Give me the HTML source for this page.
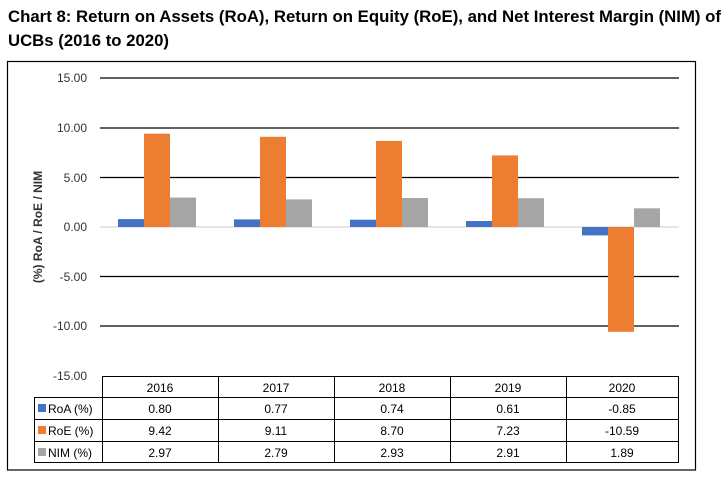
<!DOCTYPE html>
<html><head><meta charset="utf-8"><style>
body{margin:0;background:#fff;width:728px;height:484px;overflow:hidden;font-family:"Liberation Sans",sans-serif}
</style></head><body>
<svg width="728" height="484" xmlns="http://www.w3.org/2000/svg" style="position:absolute;left:0;top:0">
<text x="8" y="22" font-size="16.6" font-weight="bold" fill="#000" textLength="713" lengthAdjust="spacingAndGlyphs">Chart 8: Return on Assets (RoA), Return on Equity (RoE), and Net Interest Margin (NIM) of</text>
<text x="8" y="46" font-size="16.6" font-weight="bold" fill="#000" textLength="161" lengthAdjust="spacingAndGlyphs">UCBs (2016 to 2020)</text>
<rect x="7.5" y="61.5" width="688" height="408.5" fill="none" stroke="#000" stroke-width="1.2"/>
<g stroke="#000" stroke-width="1.2">
<line x1="100" x2="679" y1="78" y2="78"/>
<line x1="100" x2="679" y1="128" y2="128"/>
<line x1="100" x2="679" y1="177.5" y2="177.5"/>
<line x1="100" x2="679" y1="276.5" y2="276.5"/>
<line x1="100" x2="679" y1="326" y2="326"/>
</g>
<line x1="100" x2="679" y1="227" y2="227" stroke="#ccc" stroke-width="1"/>
<g font-size="12" fill="#333" text-anchor="end">
<text x="87" y="82">15.00</text><text x="87" y="132">10.00</text><text x="87" y="182">5.00</text>
<text x="87" y="231">0.00</text><text x="87" y="281">-5.00</text><text x="87" y="330">-10.00</text><text x="87" y="380">-15.00</text>
</g>
<text transform="translate(42,227) rotate(-90)" text-anchor="middle" font-size="12" font-weight="bold" fill="#333">(%) RoA / RoE / NIM</text>
<g>
<rect x="118" y="219.1" width="26" height="7.9" fill="#4472c4"/><rect x="144" y="133.7" width="26" height="93.3" fill="#ed7d31"/><rect x="170" y="197.6" width="26" height="29.4" fill="#a5a5a5"/>
<rect x="234" y="219.4" width="26" height="7.6" fill="#4472c4"/><rect x="260" y="136.8" width="26" height="90.2" fill="#ed7d31"/><rect x="286" y="199.4" width="26" height="27.6" fill="#a5a5a5"/>
<rect x="350" y="219.7" width="26" height="7.3" fill="#4472c4"/><rect x="376" y="140.9" width="26" height="86.1" fill="#ed7d31"/><rect x="402" y="198" width="26" height="29" fill="#a5a5a5"/>
<rect x="466" y="221" width="26" height="6" fill="#4472c4"/><rect x="492" y="155.4" width="26" height="71.6" fill="#ed7d31"/><rect x="518" y="198.2" width="26" height="28.8" fill="#a5a5a5"/>
<rect x="582" y="227" width="26" height="8.4" fill="#4472c4"/><rect x="608" y="227" width="26" height="104.8" fill="#ed7d31"/><rect x="634" y="208.3" width="26" height="18.7" fill="#a5a5a5"/>
</g>
<g stroke="#000" stroke-width="1" fill="none">
<line x1="102" x2="679" y1="376.5" y2="376.5"/>
<line x1="34" x2="679" y1="397.5" y2="397.5"/>
<line x1="34" x2="679" y1="419.5" y2="419.5"/>
<line x1="34" x2="679" y1="441.5" y2="441.5"/>
<line x1="34" x2="679" y1="462.5" y2="462.5"/>
<line x1="34.5" x2="34.5" y1="397" y2="463"/>
<line x1="102.5" x2="102.5" y1="376" y2="463"/>
<line x1="218.5" x2="218.5" y1="376" y2="463"/>
<line x1="334.5" x2="334.5" y1="376" y2="463"/>
<line x1="450.5" x2="450.5" y1="376" y2="463"/>
<line x1="566.5" x2="566.5" y1="376" y2="463"/>
<line x1="678.5" x2="678.5" y1="376" y2="463"/>
</g>
<g font-size="12" fill="#000" text-anchor="middle">
<text x="160" y="392">2016</text><text x="276" y="392">2017</text><text x="392" y="392">2018</text><text x="508" y="392">2019</text><text x="622" y="392">2020</text>
<text x="160" y="413">0.80</text><text x="276" y="413">0.77</text><text x="392" y="413">0.74</text><text x="508" y="413">0.61</text><text x="622" y="413">-0.85</text>
<text x="160" y="435">9.42</text><text x="276" y="435">9.11</text><text x="392" y="435">8.70</text><text x="508" y="435">7.23</text><text x="622" y="435">-10.59</text>
<text x="160" y="457">2.97</text><text x="276" y="457">2.79</text><text x="392" y="457">2.93</text><text x="508" y="457">2.91</text><text x="622" y="457">1.89</text>
</g>
<g font-size="12" fill="#000">
<rect x="38" y="404" width="8" height="8" fill="#4472c4"/><text x="48" y="413">RoA (%)</text>
<rect x="38" y="426" width="8" height="8" fill="#ed7d31"/><text x="48" y="435">RoE (%)</text>
<rect x="38" y="448" width="8" height="8" fill="#a5a5a5"/><text x="48" y="457">NIM (%)</text>
</g>
</svg>
</body></html>
